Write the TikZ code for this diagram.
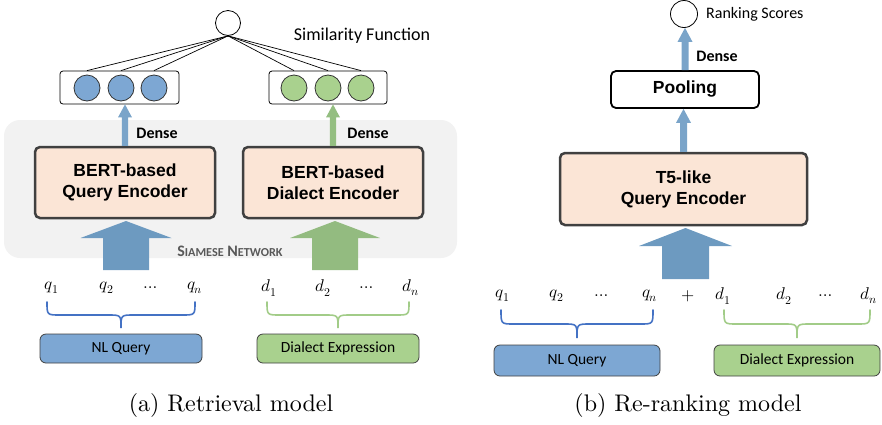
\documentclass[tikz,border=0pt]{standalone}
\usepackage{fontspec}
\usepackage{unicode-math}
\setmainfont{Latin Modern Roman}
\newfontfamily\carl{Carlito}
\newfontfamily\arb{Liberation Sans}
\newfontfamily\capfont{lmroman10-regular.otf}
\usetikzlibrary{calc}
\definecolor{encfill}{HTML}{FBE5D6}
\definecolor{encdraw}{HTML}{404040}
\definecolor{bluebig}{HTML}{6D9AC0}
\definecolor{greenbig}{HTML}{93BB80}
\definecolor{bluethin}{HTML}{7AA4C9}
\definecolor{greenthin}{HTML}{94BE81}
\definecolor{bluefill}{HTML}{7DA7D3}
\definecolor{greenfill}{HTML}{A9D18E}
\definecolor{bracebl}{HTML}{4472C4}
\definecolor{bracegr}{HTML}{A2CC88}
\definecolor{siamgray}{HTML}{F2F2F2}
\definecolor{siamtxt}{HTML}{595959}
\newcommand\blockarr[6]{%
  \fill[#1] let \p1=(#2), \p2=(#3) in
    (\x1-#4pt,\y1) -- (\x1-#4pt,\y2-#6pt) -- (\x1-#5pt,\y2-#6pt) -- (\x2,\y2)
    -- (\x1+#5pt,\y2-#6pt) -- (\x1+#4pt,\y2-#6pt) -- (\x1+#4pt,\y1) -- cycle;}
\newcommand\mybrace[7]{% color, x1, x2, xm, ytop, ymid, ytip
  \draw[#1,line width=1.6,line cap=round]
    (#2,#5) .. controls (#2,#6) .. (#2+13,#6) -- (#4-13,#6)
    .. controls (#4,#6) .. (#4,#7) .. controls (#4,#6) .. (#4+13,#6)
    -- (#3-13,#6) .. controls (#3,#6) .. (#3,#5);}
\tikzset{
  x=1pt,y=-1pt,
  simc/.style={circle,draw,line width=0.8,minimum size=#1,inner sep=0},
  vecbox/.style={draw,rounded corners=3,line width=0.8,minimum width=119,minimum height=33,inner sep=0},
  dot/.style={circle,draw=black!80,line width=0.8,minimum size=26,inner sep=0,fill=#1},
  enc/.style={rounded corners=5,fill=encfill,draw=encdraw,line width=2.5,align=center,
    font=\arb\bfseries\fontsize{17.5}{21}\selectfont,inner sep=0},
  inp/.style={rounded corners=6,draw=black!75,line width=0.8,inner sep=0,
    font=\carl\fontsize{15.5}{18}\selectfont,fill=#1},
  lbl/.style={font=\carl\fontsize{15.5}{18}\selectfont,inner sep=0},
  dlbl/.style={font=\carl\bfseries\fontsize{16}{18}\selectfont,inner sep=0},
  tok/.style={font=\fontsize{17}{19}\selectfont,inner sep=0},
  captxt/.style={font=\capfont\fontsize{24}{26}\selectfont,inner sep=0},
}
\begin{document}
\begin{tikzpicture}
\useasboundingbox (0,0) rectangle (882,424);
% ---------- (a) Retrieval model ----------
\fill[siamgray,rounded corners=16] (4,120) rectangle (457,258);
\node[simc=25] (sim) at (228,23) {};
\node[lbl,font=\carl\fontsize{18}{20}\selectfont] (simtxt) at (362,36) {Similarity Function};
\node[vecbox] (vl) at (119.5,87.5) {};
\node[vecbox,minimum width=118] (vr) at (328,87.5) {};
\node[dot=bluefill] (l1) at (87,88) {};
\node[dot=bluefill] (l2) at (121,88) {};
\node[dot=bluefill] (l3) at (154,88) {};
\node[dot=greenfill] (r1) at (294,88) {};
\node[dot=greenfill] (r2) at (328,88) {};
\node[dot=greenfill] (r3) at (361,88) {};
\foreach \c in {l1,l2,l3,r1,r2,r3}
  \draw[line width=0.7] (sim.south) -- (\c.north |- vl.north);
\node[enc,minimum width=180,minimum height=71] (bq) at (125,182.5) {BERT-based\\Query Encoder};
\node[enc,minimum width=180,minimum height=71] (bd) at (333,182.5) {BERT-based\\Dialect Encoder};
\node[dlbl] (dl) at (157,133) {Dense};
\node[dlbl] (dr) at (368,133) {Dense};
\blockarr{bluethin}{bq.north}{bq.north |- vl.south}{3.2}{7}{13}
\blockarr{greenthin}{bd.north}{bd.north |- vr.south}{3.2}{7}{13}
\coordinate (qa) at (126,270);
\coordinate (da) at (335,270);
\blockarr{bluebig}{qa}{126,221}{23}{45.5}{17}
\blockarr{greenbig}{da}{335,221}{23}{45}{17}
\node[font=\carl\bfseries\fontsize{16}{16}\selectfont,text=siamtxt,inner sep=0] (siam) at (230,251)
  {S{\fontsize{12.2}{12}\selectfont IAMESE} N{\fontsize{12.2}{12}\selectfont ETWORK}};
\node[tok] (q1) at (52,288) {$q_1$};
\node[tok] (q2) at (107,288) {$q_2$};
\node[tok] (qd) at (152,288) {$\dots$};
\node[tok] (qn) at (195,288) {$q_n$};
\node[tok] (d1) at (269,288) {$d_1$};
\node[tok] (d2) at (323,288) {$d_2$};
\node[tok] (dd) at (368,288) {$\dots$};
\node[tok] (dn) at (411,288) {$d_n$};
\mybrace{bracebl}{47}{195}{121}{302}{315}{328}
\mybrace{bracegr}{267}{409}{338}{302}{315}{328}
\node[inp=bluefill,minimum width=162,minimum height=29] (nlq) at (121,348.5) {NL Query};
\node[inp=greenfill,minimum width=162,minimum height=29] (dex) at (338,348.5) {Dialect Expression};
\node[captxt] (capa) at (231,405) {(a) Retrieval model};
% ---------- (b) Re-ranking model ----------
\node[simc=27] (rs) at (684,14) {};
\node[lbl,anchor=west,font=\carl\fontsize{16}{18}\selectfont] (rstxt) at (706,14) {Ranking Scores};
\node[rounded corners=5,draw,line width=1.8,minimum width=148,minimum height=37,inner sep=0,
  font=\arb\bfseries\fontsize{17.5}{21}\selectfont] (pool) at (685,89.5) {Pooling};
\node[enc,minimum width=247,minimum height=72] (t5) at (683.5,189) {T5-like\\Query Encoder};
\node[dlbl] (dn2) at (717,56) {Dense};
\blockarr{bluethin}{pool.north}{pool.north |- rs.south}{3.5}{7.5}{14}
\blockarr{bluethin}{t5.north}{t5.north |- pool.south}{3.5}{7.5}{14}
\coordinate (ta) at (685.5,279);
\blockarr{bluebig}{ta}{685.5,228}{23.5}{46.5}{18}
\node[tok] (bq1) at (503,296) {$q_1$};
\node[tok] (bq2) at (557,296) {$q_2$};
\node[tok] (bqd) at (603,296) {$\dots$};
\node[tok] (bqn) at (650,296) {$q_n$};
\node[tok] (plus) at (688,296) {$+$};
\node[tok] (bd1) at (723,296) {$d_1$};
\node[tok] (bd2) at (784,296) {$d_2$};
\node[tok] (bdd) at (827,296) {$\dots$};
\node[tok] (bdn) at (869,296) {$d_n$};
\mybrace{bracebl}{501}{653}{577}{310}{324}{338}
\mybrace{bracegr}{724}{870}{797}{310}{324}{338}
\node[inp=bluefill,minimum width=166,minimum height=31] (nlq2) at (577,360.5) {NL Query};
\node[inp=greenfill,minimum width=166,minimum height=31] (dex2) at (797,360.5) {Dialect Expression};
\node[captxt] (capb) at (688,405) {(b) Re-ranking model};
\end{tikzpicture}
\end{document}
